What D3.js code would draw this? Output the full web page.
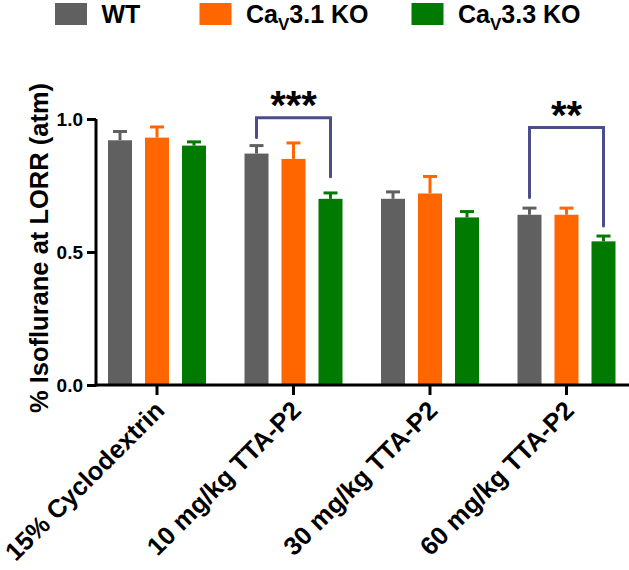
<!DOCTYPE html>
<html>
<head>
<meta charset="utf-8">
<script src="https://cdn.jsdelivr.net/npm/d3@7"></script>
<style>
  html, body { margin: 0; padding: 0; background: #fff; }
  svg { display: block; }
  text { font-family: "Liberation Sans", Arial, sans-serif; font-weight: bold; fill: #000; }
</style>
</head>
<body>
<script>
const categories = ["15% Cyclodextrin", "10 mg/kg TTA-P2", "30 mg/kg TTA-P2", "60 mg/kg TTA-P2"];
const seriesNames = ["WT", "Cav3.1 KO", "Cav3.3 KO"];
const seriesLabelMain = ["WT", "Ca", "Ca"];
const seriesLabelSub = ["", "V", "V"];
const seriesLabelTail = ["", "3.1 KO", "3.3 KO"];
const seriesColors = ["#606060", "#ff6600", "#007a00"];
const wtValues = [0.92, 0.87, 0.70, 0.64];
const wtErrors = [0.033, 0.03, 0.026, 0.025];
const cav31Values = [0.93, 0.85, 0.72, 0.64];
const cav31Errors = [0.04, 0.06, 0.064, 0.025];
const cav33Values = [0.90, 0.70, 0.63, 0.54];
const cav33Errors = [0.014, 0.022, 0.022, 0.02];
const yTicks = [0.0, 0.5, 1.0];
const yLabel = "% Isoflurane at LORR (atm)";
const sigCategory = [1, 3];
const sigLabel = ["***", "**"];
const sigTop = [1.005, 0.968];
const sigLeftEnd = [0.93, 0.705];
const sigRightEnd = [0.783, 0.598];

const values = [wtValues, cav31Values, cav33Values];
const errors = [wtErrors, cav31Errors, cav33Errors];

const W = 629, H = 570;
const svg = d3.select("body").append("svg").attr("width", W).attr("height", H);

const x = d3.scaleBand().domain(categories).range([88.75, 634.75]).paddingInner(0).paddingOuter(0);
const p = 13 / 37;
const xs = d3.scaleBand().domain(seriesNames).range([-55.5, 55.5]).paddingInner(p).paddingOuter(p / 2);
const y = d3.scaleLinear().domain([0, 1]).range([385, 119]);

const cx = c => x(c) + x.bandwidth() / 2;

const data = [];
categories.forEach((c, ci) => {
  seriesNames.forEach((s, si) => {
    data.push({ c, s, si, v: values[si][ci], e: errors[si][ci] });
  });
});

const g = svg.append("g");
g.selectAll("rect.bar").data(data).enter().append("rect")
  .attr("class", "bar")
  .attr("x", d => cx(d.c) + xs(d.s))
  .attr("y", d => y(d.v))
  .attr("width", xs.bandwidth())
  .attr("height", d => y(0) - y(d.v))
  .attr("fill", d => seriesColors[d.si]);

const capW = 14;
g.selectAll("line.err").data(data).enter().append("line")
  .attr("x1", d => cx(d.c) + xs(d.s) + xs.bandwidth() / 2)
  .attr("x2", d => cx(d.c) + xs(d.s) + xs.bandwidth() / 2)
  .attr("y1", d => y(d.v))
  .attr("y2", d => y(d.v + d.e))
  .attr("stroke", d => seriesColors[d.si]).attr("stroke-width", 3);
g.selectAll("line.cap").data(data).enter().append("line")
  .attr("x1", d => cx(d.c) + xs(d.s) + xs.bandwidth() / 2 - capW / 2)
  .attr("x2", d => cx(d.c) + xs(d.s) + xs.bandwidth() / 2 + capW / 2)
  .attr("y1", d => y(d.v + d.e))
  .attr("y2", d => y(d.v + d.e))
  .attr("stroke", d => seriesColors[d.si]).attr("stroke-width", 3);

const yAxis = d3.axisLeft(y).tickValues(yTicks).tickFormat(d3.format(".1f")).tickSize(9).tickPadding(4);
const ya = svg.append("g").attr("transform", "translate(96,0)").call(yAxis);
ya.select(".domain").attr("stroke", "#000").attr("stroke-width", 3).attr("d", `M0,${y(1)}V${y(0) + 1.5}`);
ya.selectAll(".tick line").attr("stroke", "#000").attr("stroke-width", 3);
ya.selectAll(".tick text").style("font-size", "19px").style("font-family", "Liberation Sans, Arial, sans-serif").style("font-weight", "bold").attr("dy", "0.36em");

const xAxis = d3.axisBottom(x).tickSize(10).tickFormat("");
const xa = svg.append("g").attr("transform", "translate(0,385)").call(xAxis);
xa.select(".domain").attr("stroke", "#000").attr("stroke-width", 3).attr("d", "M94.5,0H629");
xa.selectAll(".tick line").attr("stroke", "#000").attr("stroke-width", 3);

svg.append("g").selectAll("text.xl").data(categories).enter().append("text")
  .attr("class", "xl")
  .attr("text-anchor", "end")
  .attr("transform", c => `translate(${cx(c) + 9},${412}) rotate(-45)`)
  .style("font-size", "25.5px")
  .text(c => c);

svg.append("text")
  .attr("text-anchor", "middle")
  .attr("transform", `translate(48,${248}) rotate(-90)`)
  .style("font-size", "25.5px")
  .text(yLabel);

const bracketColor = "#4b4e8b";
sigCategory.forEach((ci, i) => {
  const c = categories[ci];
  const xl = cx(c) + xs(seriesNames[0]) + xs.bandwidth() / 2;
  const xr = cx(c) + xs(seriesNames[2]) + xs.bandwidth() / 2;
  svg.append("path")
    .attr("d", `M${xl},${y(sigLeftEnd[i])}V${y(sigTop[i])}H${xr}V${y(sigRightEnd[i])}`)
    .attr("fill", "none").attr("stroke", bracketColor).attr("stroke-width", 3)
    .attr("stroke-linecap", "round").attr("stroke-linejoin", "miter");
  svg.append("text")
    .attr("x", (xl + xr) / 2)
    .attr("y", y(sigTop[i]) + 1)
    .attr("text-anchor", "middle")
    .style("font-size", "40px")
    .text(sigLabel[i]);
});

const legX = [55, 199.5, 411.5];
const leg = svg.append("g");
seriesNames.forEach((s, i) => {
  leg.append("rect").attr("x", legX[i]).attr("y", 3).attr("width", 32).attr("height", 22).attr("fill", seriesColors[i]);
  const t = leg.append("text").attr("x", legX[i] + 46.5).attr("y", 23.3).style("font-size", "25px");
  t.append("tspan").text(seriesLabelMain[i]);
  if (seriesLabelSub[i]) {
    t.append("tspan").attr("dy", 7).style("font-size", "17px").text(seriesLabelSub[i]);
    t.append("tspan").attr("dy", -7).text(seriesLabelTail[i]);
  }
});
</script>
</body>
</html>
